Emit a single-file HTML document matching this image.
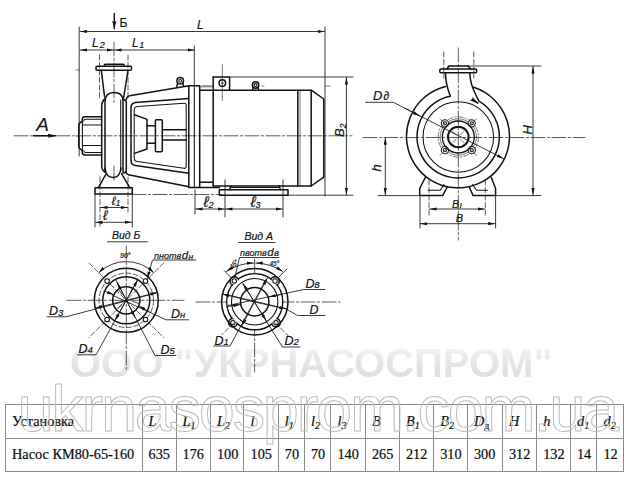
<!DOCTYPE html>
<html><head><meta charset="utf-8">
<style>
html,body{margin:0;padding:0;background:#fff;}
body{width:640px;height:481px;position:relative;overflow:hidden;font-family:"Liberation Sans",sans-serif;}
#dw{position:absolute;left:0;top:0;width:640px;height:481px;z-index:2;}
#wm1{z-index:1;position:absolute;left:70px;top:342.7px;font:bold 40px "Liberation Sans",sans-serif;color:transparent;background:linear-gradient(#f6f6f6 0px,#f0f0f0 8px,#e9e9e9 14px,#e3e3e3 24px,#dcdcdc 40px);-webkit-background-clip:text;background-clip:text;white-space:nowrap;letter-spacing:0px;line-height:40px;}
#wm2{z-index:4;position:absolute;left:17.5px;top:372px;letter-spacing:-2.3px;font:65px "Liberation Sans",sans-serif;color:transparent;-webkit-text-stroke:1px #bcbcbc;white-space:nowrap;line-height:74px;}
table{z-index:3;position:absolute;left:5px;top:404px;border-collapse:collapse;font:14.3px "Liberation Serif",serif;color:#0c0c0c;-webkit-text-stroke:0.2px #0c0c0c;table-layout:fixed;}
td{border:1px solid #8a8a8a;height:32.5px;padding:0 0 0 6px;white-space:nowrap;overflow:hidden;}
td i{font-style:italic;}
sub{font-size:10px;vertical-align:-3px;line-height:0;}
</style></head><body>
<svg id="dw" viewBox="0 0 640 481" fill="none" stroke="#121212" stroke-linecap="round" stroke-linejoin="round">
<defs>
<marker id="a" markerUnits="userSpaceOnUse" markerWidth="8" markerHeight="4" refX="7" refY="2" orient="auto-start-reverse"><path d="M0,0.4 L7,2 L0,3.6z" fill="#121212" stroke="none"/></marker>
<marker id="A" markerUnits="userSpaceOnUse" markerWidth="9" markerHeight="5" refX="8" refY="2.5" orient="auto"><path d="M0,0.4 L8.5,2.5 L0,4.6 L1.5,2.5z" fill="#121212" stroke="none"/></marker>
</defs>
<style>
.b{stroke-width:1.5}
.m{stroke-width:1.05}
.t{stroke-width:0.65;stroke:#333}
.c{stroke-width:0.75;stroke:#262626;stroke-dasharray:14 2.5 2 2.5}
.d{stroke-width:0.75;stroke:#262626;stroke-dasharray:5 2.5}
.dm{stroke-width:0.85;stroke:#161616}
text{font-family:"Liberation Sans",sans-serif;font-style:italic;fill:#141414;stroke:#141414;stroke-width:0.2px}
.s{font-size:9px}
</style>

<!-- ============ SIDE VIEW ============ -->
<g id="side">
<!-- centerlines -->
<path class="c" d="M14,135.8 H352"/>
<path class="c" d="M114,42 V104 M114,166 V181"/>
<path class="d" d="M99.5,55 V100 M128,55 V100 M100,177 V226 M128,177 V212"/>
<path class="c" d="M132,194.5 H222"/>
<path class="t" d="M222.3,64.7 V100.6"/>
<path class="t" d="M202,85.8 H212 M262,86 H264"/>
<!-- dimension L -->
<path class="dm" d="M79.2,27 V156 M325,27 V196 M194.3,46 V86"/>
<path class="dm" d="M80,31.5 H324.5" marker-start="url(#a)" marker-end="url(#a)"/>
<path class="dm" d="M80,50 H113.5" marker-start="url(#a)" marker-end="url(#a)"/>
<path class="dm" d="M114.5,50 H194.5" marker-start="url(#a)" marker-end="url(#a)"/>
<path d="M114.3,13.5 V28.8" marker-end="url(#A)" stroke-width="1.4"/>
<path class="t" d="M76,70 H79.5 M76,136 H79.5"/>
<!-- pump outlet flange -->
<path class="b" d="M104.5,66.2 V64.8 Q104.5,64.2 105.5,64.2 H123 Q124,64.2 124,64.8 V66.2"/>
<path class="b" d="M97,66.2 H130.5 Q131.5,66.2 131.5,67.2 V69.3 Q131.5,70.3 130.5,70.3 H97 Q96,70.3 96,69.3 V67.2 Q96,66.2 97,66.2Z"/>
<path class="b" d="M101.3,70.3 L104.6,97 M128,70.3 L123.6,98"/>
<!-- volute -->
<path class="b" d="M105,172 V102 Q105,92.5 114,92.5 Q123,92.5 123,101 V172"/>
<path class="b" d="M105,168 Q106,177.5 113,177.5 Q120,177.5 121,168"/>
<path class="m" d="M120.7,100 V171"/>
<path class="b" d="M105,99 Q101.7,101 101.7,107 V166 Q101.7,170 105,172"/>
<path class="b" d="M123,99.5 Q126.3,99.5 126.3,103 V170 Q126.3,173 123,173"/>
<!-- suction hub -->
<path class="b" d="M101.7,116.8 H85 Q82.3,116.8 82.3,119.5 V121.5 Q79,122.5 78.8,125 V146.5 Q79,149 82.3,150.3 V152.3 Q82.3,155 85,155 H101.7"/>
<path class="m" d="M101.5,125 H83 M101.5,145.4 H83 M82.4,121 V151"/>
<path class="m" d="M101.5,119.3 H85.5 Q83.8,119.3 83.8,121 M83.8,150.8 Q83.8,152.4 85.5,152.4 H101.5"/>
<!-- pump foot -->
<path class="b" d="M106,174 L98.3,187.8 M121.5,173.7 L130,187.8"/>
<path class="b" d="M95,187.8 H132.3 V194 H95Z"/>
<path class="dm" d="M95,194 V227 M132.3,194 V227"/>
<path class="dm" d="M100.5,207.5 H127.5" marker-start="url(#a)" marker-end="url(#a)"/>
<path class="dm" d="M95.5,222.3 H131.8" marker-start="url(#a)" marker-end="url(#a)"/>
<!-- bracket -->
<path class="b" d="M126.3,99.5 Q127,96 131,95.6 L189,85.7 M126.3,172.5 Q127,175 131,175.2 L189,186.8"/>
<path class="b" d="M188.8,85.7 H199.7 V187.6 H188.8Z"/>
<path class="m" d="M194.3,85.7 V187.6"/>
<path class="b" d="M188.8,98.5 L135.5,102.6 Q131,103.2 131,107.8 V160.5 Q131,165 135.5,165.6 L188.8,173.2"/>
<path class="m" d="M137.5,106.6 L183.8,103.2 Q186.2,103 186.2,105.4 V166.2 Q186.2,168.7 183.8,168.3 L137.5,161.6 Q134.2,161.1 134.2,158 V110 Q134.2,107 137.5,106.6Z"/>
<!-- coupling inside -->
<path class="b" d="M134.4,114.8 L147,119.4 V149 L134.4,153.4"/>
<path class="b" d="M147,125.8 H155.4 M147,143.2 H155.4"/>
<rect class="b" x="155.4" y="119.7" width="6.9" height="32" rx="1"/>
<path class="b" d="M162.3,129.7 H186.2 M162.3,140 H186.2"/>
<!-- eye bolts -->
<circle class="b" cx="180.2" cy="80.8" r="3.3"/><circle class="m" cx="180.2" cy="80.8" r="1.4"/>
<path class="b" d="M177.6,83 L176.8,86.8 M182.8,83 L183.6,86.2"/>
<circle class="b" cx="255.6" cy="85" r="3.2"/><circle class="m" cx="255.6" cy="85" r="1.4"/>
<path class="b" d="M253.2,87.2 L252.6,89.8 M258,87.2 L258.6,89.8"/>
<!-- motor -->
<path class="b" d="M199.7,90.2 H311.2 L323.8,99 V177.2 L311.2,186 H213.2"/>
<path class="b" d="M213.2,77 V186 M199.7,182.2 H213.2 M199.7,187.6 H219.5"/>
<path class="t" d="M199.7,86.8 H213.2"/>
<path class="b" d="M213.2,77 H229.6 V90"/>
<circle class="b" cx="222.3" cy="83.1" r="3.3"/><circle class="t" cx="222.3" cy="83.1" r="0.9"/>
<path class="b" d="M297.8,90.2 V186 M311.2,90.2 V186"/><path class="t" d="M300,90.2 V186"/>
<!-- motor foot -->
<path class="b" d="M231,186 L229.5,189.7 M279,186 L280.5,189.7"/>
<path class="m" d="M231,187.5 H279"/>
<path class="b" d="M219.3,189.7 H288 V195.2 H219.3Z"/>
<path class="dm" d="M225,180 V217 M283,180 V217 M195,190 V214"/>
<path class="dm" d="M195.5,209 H224.5" marker-start="url(#a)" marker-end="url(#a)"/>
<path class="dm" d="M225.5,209 H282.5" marker-start="url(#a)" marker-end="url(#a)"/>
<!-- B2 -->
<path class="dm" d="M229.6,77 H353 M288,195.2 H353"/>
<path class="dm" d="M346.4,77.5 V194.8" marker-start="url(#a)" marker-end="url(#a)"/>
<path class="t" d="M325,86 H330"/>
<!-- A arrow -->
<path d="M33.5,135.8 H55.5" marker-end="url(#A)" stroke-width="1.4"/>
</g>
<g id="sidetxt">
<text x="119.5" y="27" style="font-style:normal;font-size:12px">Б</text>
<text x="197" y="29" font-size="12">L</text>
<text x="92" y="47.3" font-size="12">L<tspan class="s" dy="1" dx="1">2</tspan></text>
<text x="132" y="47.3" font-size="12">L<tspan class="s" dy="1" dx="0.5">1</tspan></text>
<text x="36.3" y="131" font-size="19" style="stroke-width:0.1px">A</text>
<text x="111.5" y="205" font-size="12">ℓ<tspan class="s" dy="1">1</tspan></text>
<text x="103" y="220" font-size="14">ℓ</text>
<text x="203.5" y="206.5" font-size="15.5">ℓ<tspan class="s" dy="1.5">2</tspan></text>
<text x="250.5" y="206.5" font-size="15.5">ℓ<tspan class="s" dy="1.5">3</tspan></text>
<text transform="translate(344,137) rotate(-90)" font-size="13">B<tspan font-size="8.5" dy="1.5">2</tspan></text>
</g>

<!-- ============ FRONT VIEW ============ -->
<g id="front">
<path class="c" d="M363,137.5 H585"/>
<path class="c" d="M458.3,48 V240"/>
<path class="d" d="M443.8,52 V78 M473.8,52 V78"/>
<path class="d" d="M429,180 V217 M485.3,180 V217"/>
<!-- flange -->
<path class="b" d="M447,69 L448.8,66 H468.2 L470.4,69"/>
<path class="b" d="M441,69 H475.4 Q476.6,69 476.6,70 V71.8 Q476.6,72.8 475.4,72.8 H441 Q439.8,72.8 439.8,71.8 V70 Q439.8,69 441,69Z"/>
<!-- neck + contours -->
<path class="b" d="M445.4,72.8 C445.6,80 447,88 450.4,96.3 A41.2,41.2 0 1 0 479,101.2 Q476.5,96.5 474.75,92.5 C471.5,86 470,80 469.75,72.8"/>
<path class="b" d="M445.6,86.4 A51.5,51.5 0 1 0 473.6,87.3"/>
<circle class="m" cx="458.3" cy="137" r="35.3"/>
<!-- rotation arrow -->
<path d="M472.2,99.4 L477.9,103.2" stroke-width="1.5" marker-end="url(#A)"/>
<!-- hub -->
<circle class="t" cx="458.3" cy="137" r="20.2" stroke-dasharray="5 2 1.5 2"/>
<circle class="t" cx="458.3" cy="137" r="18.2"/>
<g class="m" fill="#fff"><circle cx="444.9" cy="123.3" r="3.6"/><circle cx="471.7" cy="123.3" r="3.6"/><circle cx="444.9" cy="150.2" r="3.6"/><circle cx="471.7" cy="150.2" r="3.6"/></g>
<circle cx="458.3" cy="137" r="16" stroke-width="1.3"/>
<g class="m"><circle cx="444.9" cy="123.3" r="1.6"/><circle cx="471.7" cy="123.3" r="1.6"/><circle cx="444.9" cy="150.2" r="1.6"/><circle cx="471.7" cy="150.2" r="1.6"/></g>
<circle cx="458.3" cy="137" r="10.3" stroke-width="2"/>
<path class="t" d="M460.5,134.8 L464,131.3 M456.1,139.2 L452.6,142.7 M456.1,134.8 L452.6,131.3 M460.5,139.2 L464,142.7 M440,118.7 L446,124.7 M476.6,118.7 L470.6,124.7 M440,155.3 L446,149.3 M476.6,155.3 L470.6,149.3"/>
<!-- feet -->
<path class="b" d="M425.3,177.5 L419.7,188.5 V195.6 H442.6 L447.3,187"/>
<path class="b" d="M491.3,177.5 L495.6,188.5 V195.6 H473.1 L469.3,187"/>
<path class="m" d="M428,190.3 H440.3 L444,184.6 M487.5,190.3 H476.5 L472.6,184.6"/>
<!-- ground + dims -->
<path class="dm" d="M378,195.6 H420 M495.6,195.6 H541 M468.2,66 H541"/>
<path class="dm" d="M533,66.5 V195.1" marker-start="url(#a)" marker-end="url(#a)"/>
<path class="dm" d="M385.3,137.8 V195" marker-start="url(#a)" marker-end="url(#a)"/>
<path class="dm" d="M420,195.5 V228 M495.6,195.5 V228"/>
<path class="dm" d="M429.5,209 H484.8" marker-start="url(#a)" marker-end="url(#a)"/>
<path class="dm" d="M420.2,223.7 H495.1" marker-start="url(#a)" marker-end="url(#a)"/>
<!-- Dd leader -->
<path class="dm" d="M365.5,102.3 H393.3 L503.8,158.8" marker-end="url(#a)"/>
<path class="dm" d="M405,108.3 L419.8,116" marker-end="url(#a)" stroke-width="1.2"/>
</g>
<g id="fronttxt">
<text x="373" y="100" font-size="13">D<tspan font-size="12" dx="1">∂</tspan></text>
<text transform="translate(531.5,134.5) rotate(-90)" font-size="13">H</text>
<text transform="translate(381.3,171.5) rotate(-90)" font-size="13">h</text>
<text x="452" y="208" font-size="10.5">B<tspan font-size="9.5" dx="0.5">ı</tspan></text>
<text x="455.8" y="222.3" font-size="11">B</text>
</g>

<!-- ============ VIEW B ============ -->
<g id="vb">
<path class="c" d="M67,300.3 H184"/>
<path class="c" d="M126.3,246 V372"/>
<path class="d" d="M89,263 L163.6,337.6 M163.6,263 L89,337.6" stroke-dasharray="12 26 30 26 12"/>
<circle class="b" cx="126.3" cy="300.3" r="32"/>
<circle class="b" cx="126.3" cy="300.3" r="23.5"/>
<circle class="b" cx="126.3" cy="300.3" r="13.6"/>
<circle class="d" cx="126.3" cy="300.3" r="27.2" stroke-dasharray="6 2 1 2"/>
<g class="m" fill="#fff" stroke-width="1.1"><circle cx="107.1" cy="281.1" r="2.3"/><circle cx="145.5" cy="281.1" r="2.3"/><circle cx="107.1" cy="319.5" r="2.3"/><circle cx="145.5" cy="319.5" r="2.3"/></g>
<!-- 90 arc -->
<path class="dm" d="M98.8,272.8 A38.8,38.8 0 0 1 153.8,272.8" marker-start="url(#a)" marker-end="url(#a)"/>
<!-- leaders -->
<path class="dm" d="M47,316.8 H66 L157,292.8" />
<path class="dm" d="M126.3,300.3 L157.3,292.4" marker-end="url(#a)"/>
<path class="dm" d="M126.3,300.3 L95.3,308.2" marker-end="url(#a)"/>
<path class="dm" d="M188.5,319.8 H166 L112.5,295.2"/>
<path class="dm" d="M150,312.3 L138.7,306" marker-end="url(#a)"/>
<path class="dm" d="M104,291 L113.9,294.8" marker-end="url(#a)"/>
<path class="dm" d="M77.5,354.8 H96 L138,279"/>
<path class="dm" d="M126.3,300.3 L137.8,279.8" marker-end="url(#a)"/>
<path class="dm" d="M126.3,300.3 L114.8,320.8" marker-end="url(#a)"/>
<path class="dm" d="M176,355.5 H155 L116,280"/>
<path class="dm" d="M126.3,300.3 L117,282.4" marker-end="url(#a)"/>
<path class="dm" d="M126.3,300.3 L135.1,317.5" marker-end="url(#a)"/>
<path class="dm" d="M196,260 H152.5 L147.3,278.5" marker-end="url(#a)"/>
<path class="dm" d="M119,290 L122.5,295 M133,288 L130,294 M139,303.5 L133,301.5 M118,308 L122,304" />
<path class="dm" d="M107.5,241.8 H147.5"/>
</g>
<g id="vbtxt">
<text x="112" y="239.3" font-size="10.5">Вид Б</text>
<text x="120" y="258" font-size="7">90°</text>
<text x="154" y="258.7" font-size="9">nнотв<tspan font-size="11.5" dx="0.5">d</tspan><tspan font-size="8.5" dy="1" dx="0.5">н</tspan></text>
<text x="49" y="315" font-size="12.5">D<tspan font-size="9.5" dy="1">3</tspan></text>
<text x="171" y="318.3" font-size="12.5">D<tspan font-size="9.5" dy="0">н</tspan></text>
<text x="78.5" y="353.3" font-size="12.5">D<tspan font-size="9.5" dy="0">4</tspan></text>
<text x="160.5" y="353.5" font-size="12.5">D<tspan font-size="9.5" dy="0">5</tspan></text>
</g>

<!-- ============ VIEW A ============ -->
<g id="va">
<path class="c" d="M196,302 H340"/>
<path class="c" d="M254.6,259 V372"/>
<circle class="b" cx="254.7" cy="301.8" r="28"/>
<g class="b" fill="#fff"><circle cx="234.3" cy="281" r="4.3"/><circle cx="275" cy="281" r="4.3"/><circle cx="232.9" cy="322.8" r="4.3"/><circle cx="276" cy="322.8" r="4.3"/></g>
<circle cx="254.7" cy="301.8" r="27.2" fill="#fff" stroke="none"/>
<circle class="b" cx="254.8" cy="301.8" r="33.2"/>
<circle class="m" cx="254.7" cy="301.8" r="23.2"/>
<circle class="b" cx="254.7" cy="301.8" r="14.2"/>
<g class="m"><circle cx="234.3" cy="281" r="2.2"/><circle cx="275" cy="281" r="2.2"/><circle cx="232.9" cy="322.8" r="2.2"/><circle cx="276" cy="322.8" r="2.2"/></g>
<path class="dm" d="M231.8,278.3 L224.3,270.8 M277.6,278.3 L287,268.9"/>
<path class="d" d="M233.8,322.7 L222,334.5 M275.2,322.7 L289,336.5" stroke-dasharray="8 4 6 20"/>
<path class="dm" d="M226.3,271.4 A52,52 0 0 1 253.7,263" marker-start="url(#a)" marker-end="url(#a)"/>
<path class="dm" d="M255.7,263 A52,52 0 0 1 282.7,271.4" marker-start="url(#a)" marker-end="url(#a)"/>
<path class="dm" d="M279,257.5 H239.5 L234.8,277.5"/>
<path class="dm" d="M238.8,242.5 H275"/>
<!-- leaders -->
<path class="dm" d="M325,289.5 H303.8 L228,305.5"/>
<path class="dm" d="M282,294.2 L268.8,297" marker-end="url(#a)"/>
<path class="dm" d="M228,306.5 L240.3,304.6" marker-end="url(#a)"/>
<path class="dm" d="M325,315.5 H297.5 L285.5,308.6 L226,294.5"/>
<path class="dm" d="M254.5,302 L286.3,309" marker-end="url(#a)"/>
<path class="dm" d="M254.5,302 L222.3,294" marker-end="url(#a)"/>
<path class="dm" d="M213.8,346 H230 L266,279.5"/>
<path class="dm" d="M254.5,302 L267.3,278.2" marker-end="url(#a)"/>
<path class="dm" d="M254.5,302 L241.8,325.8" marker-end="url(#a)"/>
<path class="dm" d="M300,347 H282.5 L243,284"/>
<path class="dm" d="M254.5,302 L242.8,283.2" marker-end="url(#a)"/>
<path class="dm" d="M254.5,302 L266.3,320.8" marker-end="url(#a)"/>
</g>
<g id="vatxt">
<text x="244.5" y="239.8" font-size="10.5">Вид А</text>
<text x="240" y="256" font-size="9">nвотв<tspan font-size="11.5" dx="0.5">d</tspan><tspan font-size="9.5" dx="0.3">в</tspan></text>
<text x="269.5" y="266" font-size="6.5">45°</text>
<text transform="translate(232.5,269.5) rotate(-50)" font-size="6.5">45°</text>
<text x="305.5" y="287.5" font-size="12.5">D<tspan font-size="10">в</tspan></text>
<text x="309.5" y="314" font-size="12.5">D</text>
<text x="214.5" y="344.5" font-size="12.5">D<tspan font-size="9.5">1</tspan></text>
<text x="284.5" y="345" font-size="12.5">D<tspan font-size="9.5">2</tspan></text>
</g>
</svg>


<div id="wm1">ООО "УКРНАСОСПРОМ"</div>
<table><colgroup><col style="width:136.5px"><col style="width:34px"><col style="width:34.4px"><col style="width:33.6px"><col style="width:34.3px"><col style="width:26.2px"><col style="width:26.5px"><col style="width:34.5px"><col style="width:34px"><col style="width:34.25px"><col style="width:33.75px"><col style="width:35px"><col style="width:34.25px"><col style="width:33.75px"><col style="width:26.5px"><col style="width:26.25px"></colgroup>
<tr><td>Установка</td><td><i>L</i></td><td><i>L<sub>1</sub></i></td><td><i>L<sub>2</sub></i></td><td><i>l</i></td><td><i>l<sub>1</sub></i></td><td><i>l<sub>2</sub></i></td><td><i>l<sub>3</sub></i></td><td><i>B</i></td><td><i>B<sub>1</sub></i></td><td><i>B<sub>2</sub></i></td><td><i>D</i><sub>д</sub></td><td><i>H</i></td><td><i>h</i></td><td><i>d<sub>1</sub></i></td><td><i>d<sub>2</sub></i></td></tr>
<tr><td>Насос КМ80-65-160</td><td>635</td><td>176</td><td>100</td><td>105</td><td>70</td><td>70</td><td>140</td><td>265</td><td>212</td><td>310</td><td>300</td><td>312</td><td>132</td><td>14</td><td>12</td></tr>
</table>
<div id="wm2">ukrnasosprom.com.ua</div>
</body></html>
